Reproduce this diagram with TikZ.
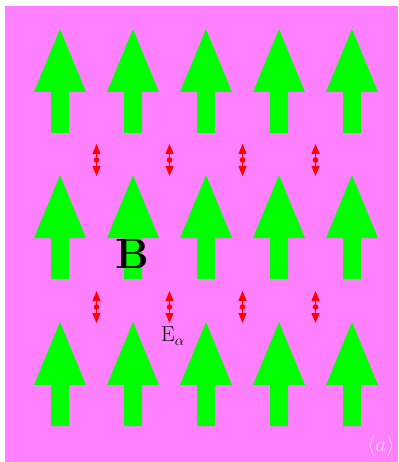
\documentclass[tikz,border=0pt]{standalone}
\usepackage{tikz}
\usetikzlibrary{arrows.meta}

\definecolor{bgpink}{RGB}{255,128,255}
\definecolor{fieldgreen}{RGB}{0,255,0}
\definecolor{tagpink}{RGB}{255,205,255}

\begin{document}
\begin{tikzpicture}[x=1pt, y=-1pt,
		% big green field arrow, tip at the origin
		fieldarrow/.pic={\fill[fieldgreen] (0,0) -- (26,63) -- (9,63) -- (9,104) -- (-9,104) -- (-9,63) -- (-26,63) -- cycle;},
		% small red double arrow with a dot
		oscarrow/.pic={
			\draw[red, line width=1pt, {Triangle[length=10pt,width=8pt]}-{Triangle[length=10pt,width=8pt]}] (0,-16) -- (0,16);
			\fill[red] (0,0) circle (2.8);
		}
		]
		
		\useasboundingbox (0,0) rectangle (398,462);
		\fill[bgpink] (5,6) rectangle (398,462);
		
		% --- green arrows ---
		\foreach \r in {29,175,322} {
			\foreach \c in {0,...,4} {
				\pic at ({60+73*\c},\r) {fieldarrow};
			}
		}
		
		% --- red arrows ---
		\foreach \r in {160,307} {
			\foreach \c in {0,...,3} {
				\pic at ({96.5+73*\c},\r) {oscarrow};
			}
		}
		
		% --- labels ---
		\node[scale=1.7] (bfield) at (132,254) {\Huge\bfseries B};
		\node[scale=1.25] (efield) at (173,336) {\LARGE$\mathrm{E}_\alpha$};
		\node[scale=1.5, text=tagpink] (tag) at (381,446) {\Large$\langle a\rangle$};
		
\end{tikzpicture}
\end{document}
